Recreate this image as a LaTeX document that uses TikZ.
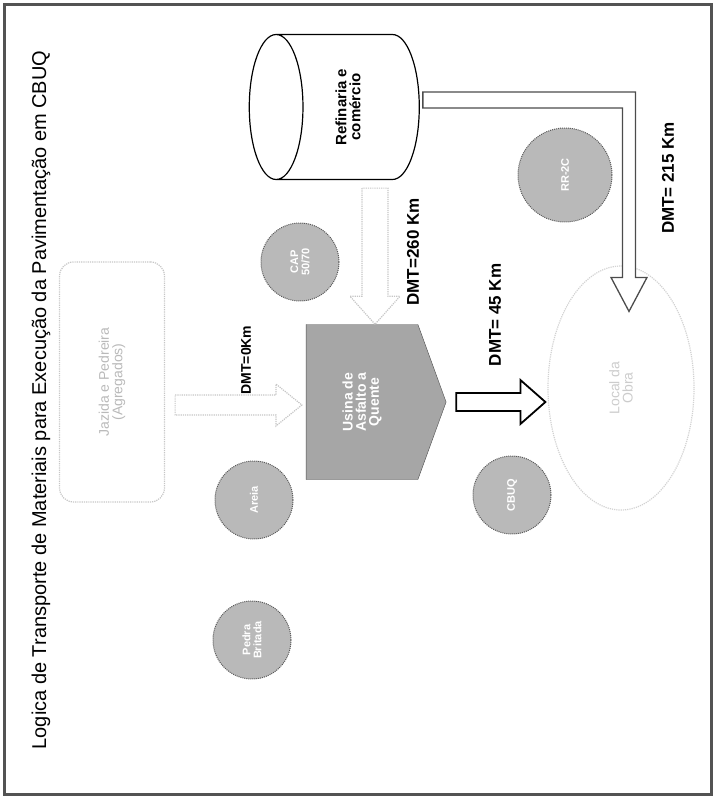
\documentclass[tikz,border=0pt]{standalone}
\usepackage{fontspec}
\setmainfont{Liberation Sans}
\usetikzlibrary{shapes.geometric,shapes.symbols,calc}

\tikzset{
  material/.style={circle, draw=gray!70!black, densely dotted, line width=1pt, fill=gray!55, minimum size=78pt, inner sep=0pt, text=white, font=\bfseries\fontsize{11}{12}\selectfont, align=center},
  dmt/.style={inner sep=0pt, font=\bfseries\fontsize{17}{19}\selectfont},
  fraca/.style={draw=gray!45, densely dotted, line width=1.2pt, fill=white},
  cheia/.style={draw=black, line width=1.8pt, fill=white},
  dupla/.style={draw=gray!60!black, line width=1.3pt, fill=white},
}

\begin{document}
\begin{tikzpicture}[x=1pt,y=1pt,yscale=-1,xscale=1]
\useasboundingbox (0,0) rectangle (715,798);
%Shape: Rectangle (moldura)
\draw [gray!65!black, line width=3pt] (4,4) rectangle (711,794);

% Text Node
\node (titulo) at (41,400) {\rotatebox{90}{\fontsize{20}{23}\selectfont Logica de Transporte de Materiais para Execução da Pavimentação em CBUQ}};

%Shape: Rounded Rect
\node [draw=gray!45, densely dotted, line width=1.2pt, rounded corners=14pt, minimum width=105pt, minimum height=240pt, text=gray!55, font=\fontsize{14}{26}\selectfont] (jazida) at (112,382) {\rotatebox{90}{\shortstack{Jazida e Pedreira\\(Agregados)}}};

%Shape: Can
\node [cylinder, shape border rotate=180, aspect=0.7, draw, line width=1.2pt, minimum width=145pt, minimum height=170pt, inner sep=0pt, font=\bfseries\fontsize{15}{20}\selectfont] (refinaria) at (348,107) {\rotatebox{90}{\shortstack{Refinaria e\\comércio}}};

%Shape: Pentagon
\node [signal, signal to=east, signal pointer angle=140, draw=gray!60!black, fill=gray!70, minimum width=140pt, minimum height=155pt, inner sep=0pt, text=white, font=\bfseries\fontsize{14}{19}\selectfont] (usina) at (362,402) {\rotatebox{90}{\shortstack{Usina de\\Asfalto a\\Quente}}};

%Shape: Ellipse
\node [ellipse, draw=gray!35, densely dotted, line width=1.2pt, minimum width=146pt, minimum height=244pt, text=gray!40, font=\fontsize{14}{22}\selectfont] (obra) at (621,388) {\rotatebox{90}{\shortstack{Local da\\Obra}}};

%Shape: Circles
\node [material] (areia) at (254,500) {\rotatebox{90}{Areia}};
\node [material] (pedra) at (252,640) {\rotatebox{90}{\shortstack{Pedra\\Britada}}};
\node [material] (cap) at (300,262) {\rotatebox{90}{\shortstack{CAP\\50/70}}};
\node [material] (cbuq) at (512,495) {\rotatebox{90}{CBUQ}};
\node [material, minimum size=94pt] (emulsao) at (565,175) {\rotatebox{90}{RR-2C}};

% Text Node
\node [dmt, font=\bfseries\fontsize{14}{16}\selectfont] (dmt0) at (246,360) {\rotatebox{90}{DMT=0Km}};
\node [dmt] (dmt260) at (413,252) {\rotatebox{90}{DMT=260 Km}};
\node [dmt] (dmt45) at (495,315) {\rotatebox{90}{DMT= 45 Km}};
\node [dmt] (dmt215) at (668,178) {\rotatebox{90}{DMT= 215 Km}};

%Shape: Right Arrow (jazida -> usina)
\coordinate (a0) at ($(jazida.east)+(10,23)$);
\coordinate (a1) at ($(usina.west)+(-4,3)$);
\draw [fraca] ($(a0)+(0,-10)$) -- ($(a1)+(-26,-10)$) -- ($(a1)+(-26,-21)$) -- (a1) -- ($(a1)+(-26,21)$) -- ($(a1)+(-26,10)$) -- ($(a0)+(0,10)$) -- cycle;

%Shape: Down Arrow (refinaria -> usina)
\coordinate (b0) at ($(refinaria.south)+(27,8)$);
\coordinate (b1) at ($(usina.north)+(13,0)$);
\draw [fraca] ($(b0)+(-13,0)$) -- ($(b1)+(-13,-28)$) -- ($(b1)+(-25,-28)$) -- (b1) -- ($(b1)+(25,-28)$) -- ($(b1)+(13,-28)$) -- ($(b0)+(13,0)$) -- cycle;

%Shape: Right Arrow (usina -> obra)
\coordinate (c0) at ($(usina.east)+(10,0)$);
\coordinate (c1) at ($(obra.west |- usina.east)+(-2,0)$);
\draw [cheia] ($(c0)+(0,-9)$) -- ($(c1)+(-25,-9)$) -- ($(c1)+(-25,-22)$) -- (c1) -- ($(c1)+(-25,22)$) -- ($(c1)+(-25,9)$) -- ($(c0)+(0,9)$) -- cycle;

%Shape: Bent Arrow (refinaria -> obra)
\coordinate (d0) at ($(refinaria.east)+(3,-7)$);
\coordinate (d1) at ($(obra.north)+(8,46)$);
\draw [dupla] ($(d0)+(0,-8)$) -| ($(d1)+(6.5,-34)$) -- ($(d1)+(18,-34)$) -- (d1) -- ($(d1)+(-18,-34)$) -- ($(d1)+(-6.5,-34)$) |- ($(d0)+(0,8)$) -- cycle;

\end{tikzpicture}
\end{document}
